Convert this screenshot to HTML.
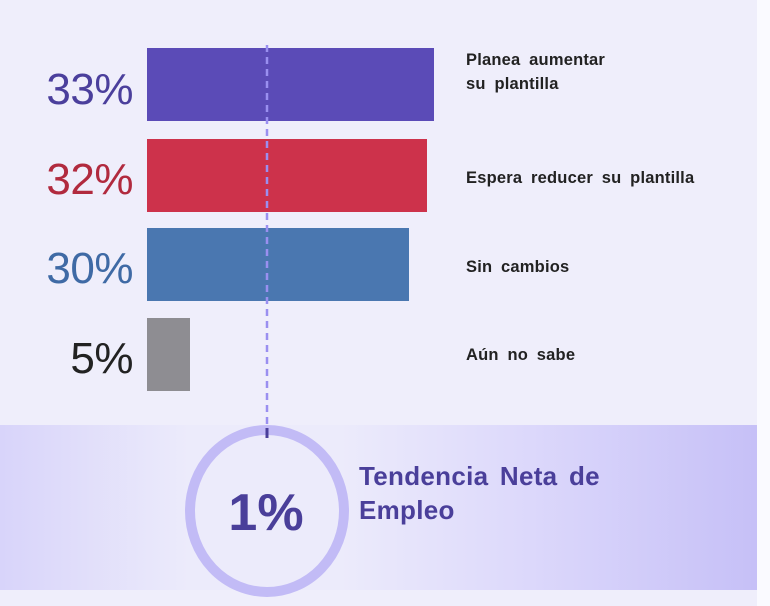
<!DOCTYPE html>
<html><head><style>
body{margin:0;width:770px;height:606px;background:#fafaff;position:relative;overflow:hidden;font-family:"Liberation Sans",Arial,sans-serif}
#bg{position:absolute;left:0;top:0;width:757px;height:606px;background:#efeefb}
.bar{position:absolute;left:147px;height:73px}
.pct{position:absolute;right:637px;font-size:44px;line-height:44px;letter-spacing:-0.5px}
.lab{position:absolute;left:466px;font-size:16.5px;font-weight:bold;color:#222;line-height:24px;word-spacing:4px;letter-spacing:0.2px}
#band{position:absolute;left:0;top:425px;width:757px;height:165px;background:linear-gradient(90deg,#d8d4fa 0%,#ecebfb 25%,#ecebfb 45%,#dcd8fb 70%,#c6c0f7 100%)}
</style></head><body>
<div id="bg"></div>
<div id="band"></div>
<div class="bar" style="top:48px;width:287px;background:#5b4bb7"></div>
<div class="bar" style="top:139px;width:280px;background:#cd324b"></div>
<div class="bar" style="top:228px;width:262px;background:#4a77b0"></div>
<div class="bar" style="top:318px;width:43px;background:#8e8d92"></div>
<div class="pct" style="top:68px;color:#4b3f9c">33%</div>
<div class="pct" style="top:158px;color:#b12a3e">32%</div>
<div class="pct" style="top:247px;color:#3f6aa5">30%</div>
<div class="pct" style="top:337px;color:#222">5%</div>
<div class="lab" style="top:48px">Planea aumentar<br>su plantilla</div>
<div class="lab" style="top:166px">Espera reducer su plantilla</div>
<div class="lab" style="top:255px">Sin cambios</div>
<div class="lab" style="top:343px">Aún no sabe</div>
<svg style="position:absolute;left:0;top:0" width="770" height="606">
<line x1="267" y1="45" x2="267" y2="428" stroke="#9a8ff0" stroke-width="2.5" stroke-dasharray="7,5"/>
<ellipse cx="267" cy="511" rx="77" ry="81" fill="none" stroke="#c2bbf6" stroke-width="10"/>
<line x1="267" y1="428" x2="267" y2="438" stroke="#4a3f9a" stroke-width="3"/>
<text x="266" y="530" text-anchor="middle" font-family="Liberation Sans,Arial,sans-serif" font-weight="bold" font-size="52" fill="#4a3f9a">1%</text>
<text x="359" y="485" font-family="Liberation Sans,Arial,sans-serif" font-weight="bold" font-size="26" fill="#4a3f9a" word-spacing="4" letter-spacing="0.3">Tendencia Neta de</text>
<text x="359" y="519" font-family="Liberation Sans,Arial,sans-serif" font-weight="bold" font-size="26" fill="#4a3f9a" letter-spacing="0.3">Empleo</text>
</svg>
</body></html>
